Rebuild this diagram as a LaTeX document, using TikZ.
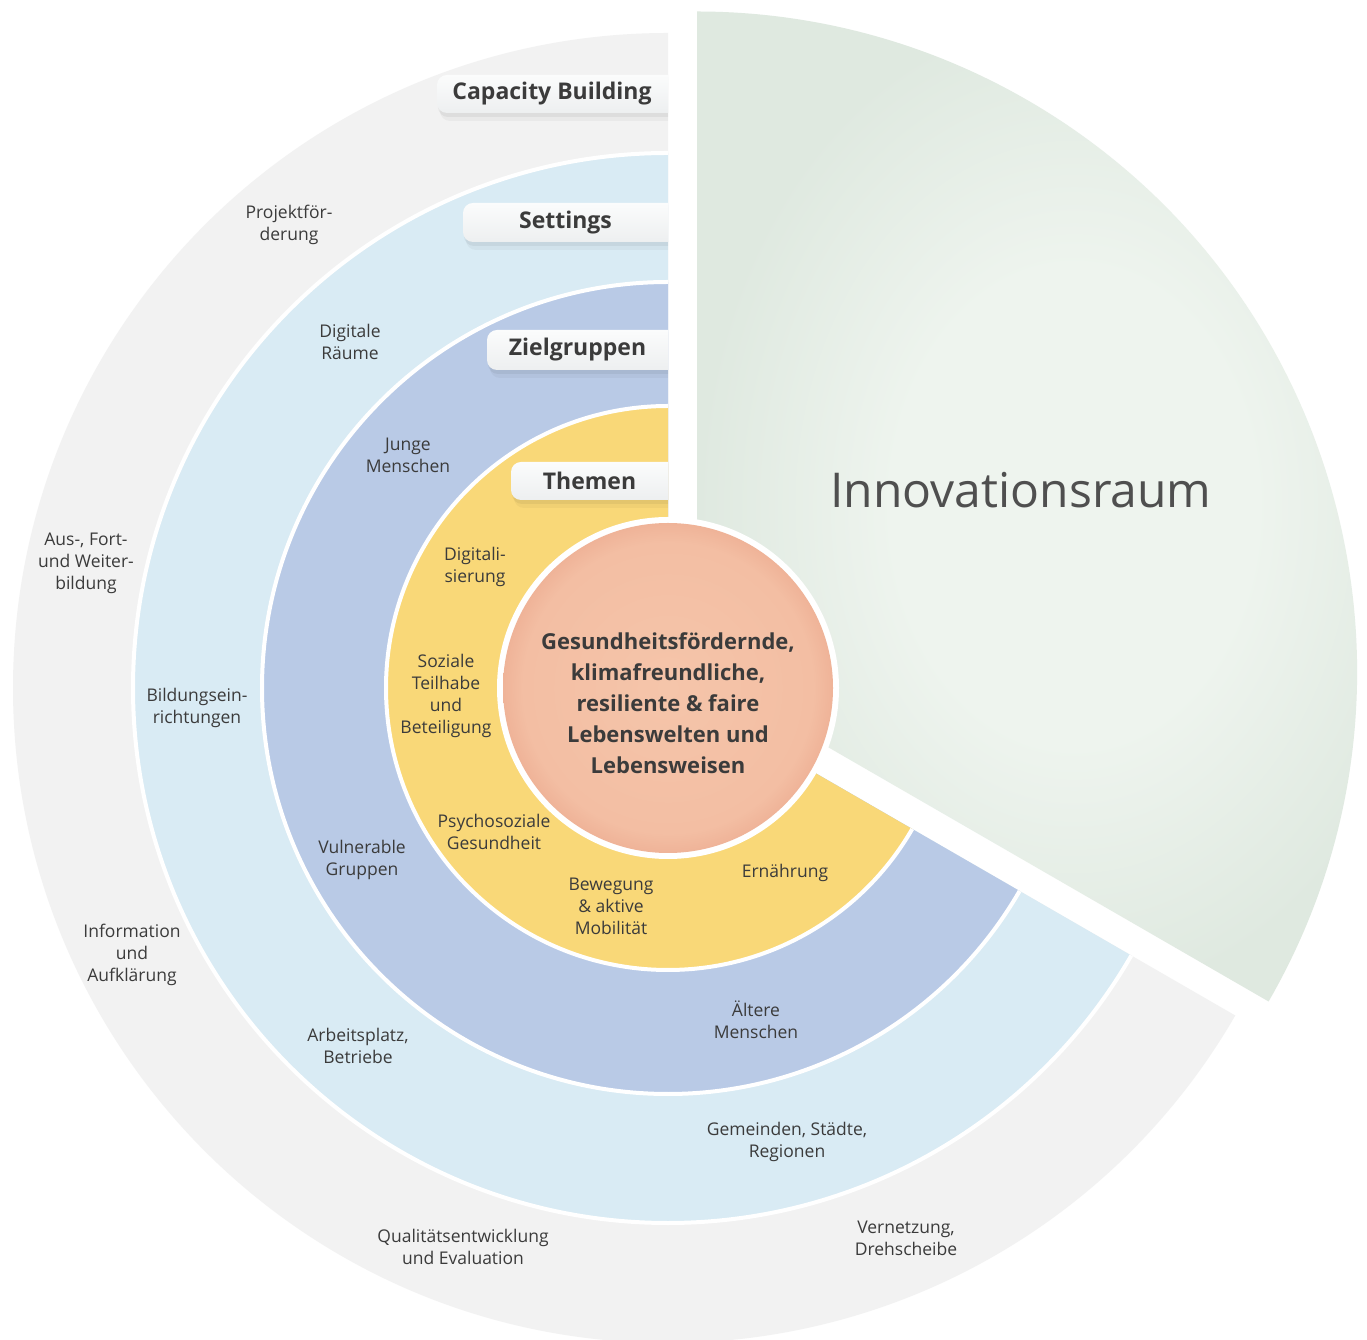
\documentclass[tikz,border=0pt]{standalone}
\usepackage{fontspec}
\setmainfont{Open Sans}
\definecolor{txt}{HTML}{3B3B3B}
\definecolor{gring}{HTML}{F2F2F2}
\definecolor{sring}{HTML}{D9EBF4}
\definecolor{zring}{HTML}{B9CAE6}
\definecolor{tring}{HTML}{F9D878}
\definecolor{wIn}{HTML}{EEF4EE}
\definecolor{wOut}{HTML}{DFE9E0}
\definecolor{cA}{HTML}{F5C5AA}
\definecolor{cB}{HTML}{F3BEA3}
\definecolor{cC}{HTML}{EFB398}
\definecolor{tabA}{HTML}{FBFCFC}
\definecolor{tabB}{HTML}{EDEFF0}
\pgfdeclareradialshading{coresh}{\pgfpoint{0bp}{0bp}}{color(0bp)=(cA); color(22bp)=(cB); color(25bp)=(cC); color(50bp)=(cC)}
\pgfdeclareradialshading{wedgesh}{\pgfpoint{0bp}{0bp}}{color(0bp)=(wIn); color(12bp)=(wIn); color(25bp)=(wOut); color(50bp)=(wOut)}
\newcommand\ringsector[2]{\fill[#1] (668,651) -- ++(90:#2) arc[start angle=90,end angle=330,radius=#2] -- cycle;}
\newcommand\ringedge[1]{\draw[white,line width=4pt] (668,651) ++(90:#1) arc[start angle=90,end angle=330,radius=#1];}
\newcommand\tabshape[3]{%
  \fill[black,opacity=0.035,rounded corners=10pt] (668,#3-8) -- (#1+3,#3-8) -- (#1+3,#2-4) -- (668,#2-4);
  \fill[black,opacity=0.05,rounded corners=10pt] (668,#3-4) -- (#1+1,#3-4) -- (#1+1,#2-2) -- (668,#2-2);
  \shade[top color=tabA,bottom color=tabB,rounded corners=10pt] (668,#3) -- (#1,#3) -- (#1,#2) -- (668,#2);}
\tikzset{
  lbl/.style={align=center,text=txt,inner sep=0pt,font=\fontsize{17.5}{22}\selectfont},
  tablbl/.style={text=txt,inner sep=0pt,font=\bfseries\fontsize{23}{26}\selectfont},
  corelbl/.style={align=center,text=txt,inner sep=0pt,font=\bfseries\fontsize{22}{31}\selectfont},
}
\begin{document}
\begin{tikzpicture}[x=1pt,y=1pt]
\useasboundingbox (0,0) rectangle (1367,1339);
\fill[white] (0,0) rectangle (1367,1339);
% Innovationsraum wedge
\shade[shading=wedgesh] (697,667.5) -- ++(-30:660) arc[start angle=-30,end angle=90,radius=660] -- cycle;
% rings
\ringsector{gring}{655}
\ringsector{sring}{535}
\ringedge{535}
\ringsector{zring}{406}
\ringedge{406}
\ringsector{tring}{282}
\ringedge{282}
% tabs
\tabshape{437}{1264}{1226}
\tabshape{463}{1136}{1097}
\tabshape{487}{1009}{969}
\tabshape{511}{877}{839}
\node[tablbl] (tCB) at (552,1245) {Capacity Building};
\node[tablbl] (tSet) at (565.5,1116.5) {Settings};
\node[tablbl] (tZiel) at (577.5,989) {Zielgruppen};
\node[tablbl] (tThem) at (589.5,858) {Themen};
% core
\fill[white] (668,651) circle (171);
\shade[shading=coresh] (668,651) circle (165);
\node[corelbl] (core) at (668,635.5) {Gesundheitsfördernde,\\klimafreundliche,\\resiliente \& faire\\Lebenswelten und\\Lebensweisen};
% innovation
\node[text=txt!90,inner sep=0pt,font=\fontsize{48}{50}\selectfont] (inno) at (1021,849) {Innovationsraum};
% labels
\node[lbl] (l1) at (289,1114) {Projektför-\\derung};
\node[lbl] (l2) at (350,997.5) {Digitale\\Räume};
\node[lbl] (l3) at (408,883.5) {Junge\\Menschen};
\node[lbl] (l4) at (86,776) {Aus-, Fort-\\und Weiter-\\bildung};
\node[lbl] (l5) at (475,772) {Digitali-\\sierung};
\node[lbl] (l6) at (446,643) {Soziale\\Teilhabe\\und\\Beteiligung};
\node[lbl] (l7) at (197,631) {Bildungsein-\\richtungen};
\node[lbl] (l8) at (494,507) {Psychosoziale\\Gesundheit};
\node[lbl] (l9) at (362,479) {Vulnerable\\Gruppen};
\node[lbl] (l10) at (785,466) {Ernährung};
\node[lbl] (l11) at (611,433) {Bewegung\\\& aktive\\Mobilität};
\node[lbl] (l12) at (132,384) {Information\\und\\Aufklärung};
\node[lbl] (l13) at (756,319) {Ältere\\Menschen};
\node[lbl] (l14) at (358,293) {Arbeitsplatz,\\Betriebe};
\node[lbl] (l15) at (787,197) {Gemeinden, Städte,\\Regionen};
\node[lbl] (l16) at (463,92) {Qualitätsentwicklung\\und Evaluation};
\node[lbl] (l17) at (906,101) {Vernetzung,\\Drehscheibe};
\end{tikzpicture}
\end{document}
